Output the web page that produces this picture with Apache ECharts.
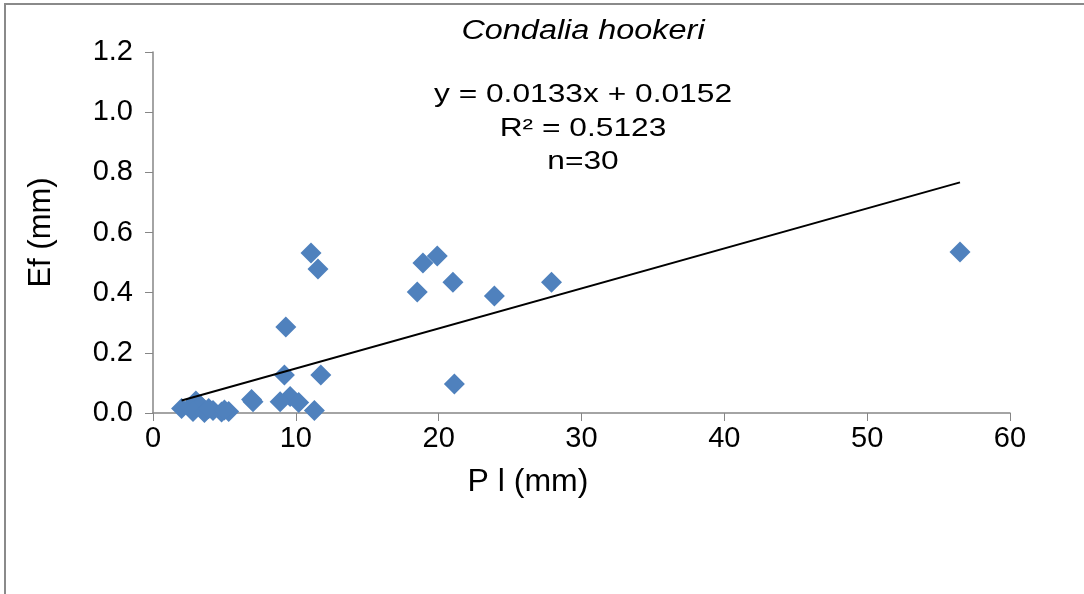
<!DOCTYPE html>
<html>
<head>
<meta charset="utf-8">
<script src="https://cdn.jsdelivr.net/npm/echarts@6/dist/echarts.min.js"></script>
<style>html,body{margin:0;padding:0;background:#fff;}#c{width:1084px;height:594px;}</style>
</head>
<body>
<div id="c"></div>
<script>
var titleText = 'Condalia hookeri';
var xName = 'P l (mm)';
var yName = 'Ef (mm)';
var eqLines = ['y = 0.0133x + 0.0152', 'R\u00b2 = 0.5123', 'n=30'];
var slope = 0.0133;
var intercept = 0.0152;
var trendX = [2.0, 56.5];
var xTicks = [0, 10, 20, 30, 40, 50, 60];
var yTicks = [0, 0.2, 0.4, 0.6, 0.8, 1.0, 1.2];
var points = [
  [56.5, 0.535], [27.9, 0.435], [23.9, 0.389], [21.0, 0.435], [19.9, 0.522],
  [18.9, 0.499], [18.5, 0.402], [21.1, 0.096],
  [11.06, 0.532], [11.55, 0.479], [9.3, 0.286], [9.2, 0.126], [11.75, 0.126],
  [7.0, 0.037], [6.9, 0.045], [9.6, 0.055], [8.9, 0.037], [10.2, 0.035], [11.3, 0.008], [5.3, 0.005],
  [2.0, 0.015], [2.6, 0.02], [3.0, 0.04], [3.3, 0.025], [2.8, 0.005],
  [3.6, 0.002], [4.2, 0.008], [4.8, 0.003], [3.9, 0.015], [5.0, 0.01]
];

var trend = trendX.map(function (x) { return [x, slope * x + intercept]; });
var font = '"Liberation Sans", Arial, sans-serif';
var chart = echarts.init(document.getElementById('c'));
var eqGraphics = eqLines.map(function (t, i) {
  return { type: 'text', x: 583, y: 95 + i * 33.5, scaleX: 1.22,
    style: { text: t, fill: '#000', font: '26px ' + font, textAlign: 'center', textVerticalAlign: 'middle' } };
});
chart.setOption({
  animation: false,
  backgroundColor: '#fff',
  grid: { left: 153, right: 74, top: 52, bottom: 181 },
  xAxis: {
    type: 'value', min: xTicks[0], max: xTicks[xTicks.length - 1], interval: 10,
    axisLine: { show: true, lineStyle: { color: '#868686', width: 1.5 } },
    axisTick: { show: true, length: 8, lineStyle: { color: '#868686' } },
    axisLabel: { color: '#000', fontSize: 29, fontFamily: font, margin: 11 },
    splitLine: { show: false }
  },
  yAxis: {
    type: 'value', min: yTicks[0], max: yTicks[yTicks.length - 1], interval: 0.2,
    name: yName, nameLocation: 'middle', nameGap: 96, nameRotate: 90,
    nameTextStyle: { color: '#000', fontSize: 31, fontFamily: font },
    axisLine: { show: true, lineStyle: { color: '#868686', width: 1.5 } },
    axisTick: { show: true, length: 8, lineStyle: { color: '#868686' } },
    axisLabel: { color: '#000', fontSize: 29, fontFamily: font, margin: 20,
      formatter: function (v) { return v.toFixed(1); } },
    splitLine: { show: false }
  },
  graphic: [
    { type: 'rect', shape: { x: 5, y: 4, width: 3000, height: 3000 },
      style: { fill: 'none', stroke: '#8a8a8a', lineWidth: 2 }, silent: true },
    { type: 'text', x: 583, y: 31, scaleX: 1.2,
      style: { text: titleText, fill: '#000', font: 'italic 27px ' + font, textAlign: 'center', textVerticalAlign: 'middle' } },
    { type: 'text', x: 528, y: 482,
      style: { text: xName, fill: '#000', font: '32px ' + font, textAlign: 'center', textVerticalAlign: 'middle' } }
  ].concat(eqGraphics),
  series: [
    { type: 'scatter', data: points, symbol: 'diamond', symbolSize: 21,
      itemStyle: { color: '#4F81BD', opacity: 1 }, z: 2 },
    { type: 'line', data: trend, showSymbol: false, symbol: 'none',
      lineStyle: { color: '#000', width: 2 }, z: 3, silent: true }
  ]
});
</script>
</body>
</html>
